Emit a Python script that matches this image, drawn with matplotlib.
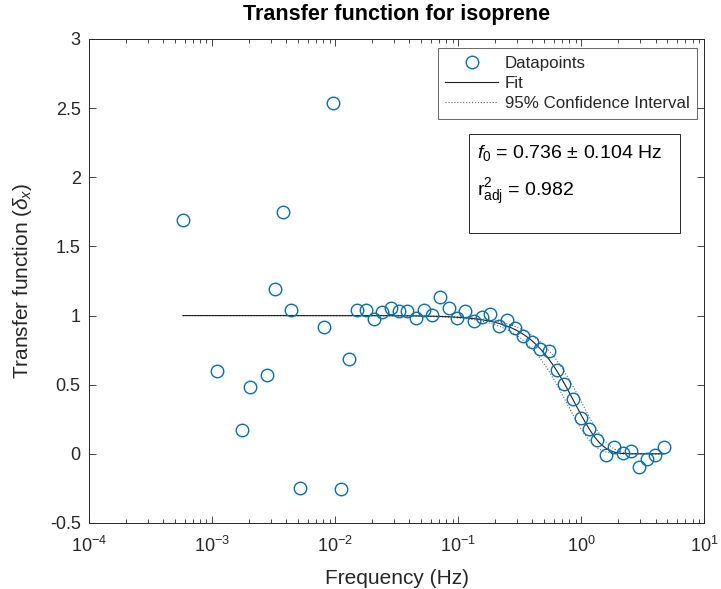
import numpy as np
import matplotlib
matplotlib.use("Agg")
import matplotlib.pyplot as plt
from matplotlib.patches import Rectangle

# values
freq = [5.8e-4, 1.10e-3, 1.74e-3, 2.03e-3, 2.79e-3, 3.24e-3, 3.77e-3, 4.40e-3,
        5.15e-3, 8.15e-3, 9.59e-3, 1.12e-2, 1.30e-2, 1.51e-2, 1.78e-2, 2.07e-2,
        2.42e-2, 2.84e-2, 3.30e-2, 3.85e-2, 4.51e-2, 5.24e-2, 6.11e-2, 7.10e-2,
        8.35e-2, 9.70e-2, 0.114, 0.133, 0.156, 0.182, 0.213, 0.247, 0.289,
        0.337, 0.395, 0.461, 0.542, 0.630, 0.726, 0.849, 0.993, 1.16, 1.35,
        1.58, 1.85, 2.17, 2.52, 2.94, 3.41, 3.98, 4.66]
transfer = [1.69, 0.60, 0.175, 0.48, 0.57, 1.19, 1.75, 1.04,
            -0.25, 0.915, 2.54, -0.256, 0.684, 1.04, 1.04, 0.978,
            1.024, 1.053, 1.035, 1.035, 0.98, 1.04, 1.004, 1.137,
            1.053, 0.98, 1.035, 0.961, 0.992, 1.009, 0.927, 0.968, 0.912,
            0.852, 0.811, 0.756, 0.746, 0.607, 0.505, 0.394, 0.257, 0.180, 0.100,
            -0.008, 0.048, 0.009, 0.023, -0.095, -0.039, -0.008, 0.048]

f0 = 0.736      # fitted cut-off (Hz), as printed on the chart
f0_err = 0.104
r2_adj = 0.982

xticks = [1e-4, 1e-3, 1e-2, 1e-1, 1e0, 1e1]
xticklabels = ["$10^{-4}$", "$10^{-3}$", "$10^{-2}$", "$10^{-1}$", "$10^{0}$", "$10^{1}$"]
yticks = [-0.5, 0, 0.5, 1, 1.5, 2, 2.5, 3]
yticklabels = ["-0.5", "0", "0.5", "1", "1.5", "2", "2.5", "3"]

plt.rcParams["font.family"] = ["Liberation Sans", "DejaVu Sans"]
plt.rcParams["mathtext.fontset"] = "custom"
plt.rcParams["mathtext.rm"] = "Liberation Sans"
plt.rcParams["mathtext.it"] = "Liberation Sans:italic"
plt.rcParams["mathtext.bf"] = "Liberation Sans:bold"

txt = "#262626"
blue = "#0072BD"


def model(f, fc):
    return np.exp(-np.log(2) * (f / fc) ** 2)


fig = plt.figure(figsize=(7.21, 5.89), dpi=100, facecolor="white")
ax = fig.add_axes([0.1234, 0.1121, 0.8537, 0.8217])

ff = np.logspace(np.log10(freq[0]), np.log10(freq[-1]), 400)
ax.plot(freq, transfer, "o", mfc="none", mec=blue, ms=9, mew=1.0,
        label="Datapoints", zorder=3)
ax.plot(ff, model(ff, f0), "-", color="#222222", lw=0.8, label="Fit", zorder=2)
ax.plot(ff, model(ff, f0 - f0_err), ":", color="#666666", lw=0.8,
        label="95% Confidence Interval", zorder=1)
ax.plot(ff, model(ff, f0 + f0_err), ":", color="#666666", lw=0.8, zorder=1)

ax.set_xscale("log")
ax.set_xlim(1e-4, 1e1)
ax.set_ylim(-0.5, 3)
ax.set_xticks(xticks)
ax.set_xticklabels(xticklabels)
ax.set_yticks(yticks)
ax.set_yticklabels(yticklabels)

ax.tick_params(which="both", direction="in", top=True, right=True,
               colors=txt, labelsize=13, width=0.6)
ax.tick_params(which="major", length=5)
ax.tick_params(which="minor", length=3)
ax.tick_params(axis="x", which="major", pad=9)
ax.tick_params(axis="y", which="major", pad=6)
for s in ax.spines.values():
    s.set_color(txt)
    s.set_linewidth(0.7)

ax.set_xlabel("Frequency (Hz)", fontsize=15, color=txt, labelpad=10)
ax.set_ylabel(r"Transfer function ($\delta_x$)", fontsize=15, color=txt, labelpad=11)
ax.set_title("Transfer function for isoprene", fontsize=15.5, fontweight="bold",
             color="black", pad=14)

leg = ax.legend(loc="upper right", bbox_to_anchor=(0.988, 0.981),
                borderaxespad=0, fontsize=12.2, frameon=True, fancybox=False,
                edgecolor=txt, handlelength=3.1, handletextpad=0.4,
                labelspacing=0.3, borderpad=0.45)
leg.get_frame().set_linewidth(0.6)
for t in leg.get_texts():
    t.set_color(txt)

# annotation box with fit results
ax.add_patch(Rectangle((0.6174, 0.5992), 0.3428, 0.2045, transform=ax.transAxes,
                       fc="white", ec=txt, lw=0.7, zorder=4))
ax.text(0.6304, 0.7645, "$f_0$ = %.3f ± %.3f Hz" % (f0, f0_err),
        transform=ax.transAxes, ha="left", va="center", fontsize=14,
        color="black", zorder=5)
ax.text(0.6304, 0.6839, "$\\mathrm{r}^2_{\\mathrm{adj}}$ = %.3f" % r2_adj,
        transform=ax.transAxes, ha="left", va="center", fontsize=14,
        color="black", zorder=5)

fig.savefig("out.png", dpi=100, facecolor="white")
